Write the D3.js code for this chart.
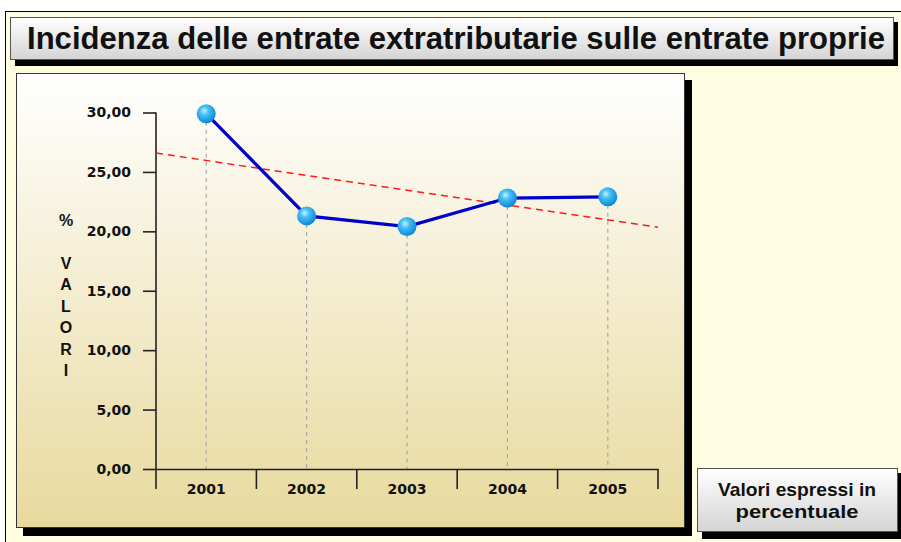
<!DOCTYPE html>
<html>
<head>
<meta charset="utf-8">
<script src="https://cdn.jsdelivr.net/npm/d3@7"></script>
<style>
  body { margin: 0; background: #fff; }
  svg { display: block; }
</style>
</head>
<body>
<svg id="chart" width="901" height="542"></svg>
<script>
// dati
const years = ["2001", "2002", "2003", "2004", "2005"];
const values = [29.9, 21.3, 20.4, 22.8, 22.9];
const yTicks = [0, 5, 10, 15, 20, 25, 30];
const titleText = "Incidenza delle entrate extratributarie sulle entrate proprie";
const axisTitle = ["%", "V", "A", "L", "O", "R", "I"];
const noteLines = ["Valori espressi in", "percentuale"];

const svg = d3.select("#chart");
const defs = svg.append("defs");

const panelGrad = defs.append("linearGradient").attr("id", "panelGrad")
  .attr("x1", 0).attr("y1", 0).attr("x2", 0).attr("y2", 1);
panelGrad.append("stop").attr("offset", "0%").attr("stop-color", "#ffffff");
panelGrad.append("stop").attr("offset", "100%").attr("stop-color", "#e8d99d");

const boxGrad = defs.append("linearGradient").attr("id", "boxGrad")
  .attr("x1", 0).attr("y1", 0).attr("x2", 0).attr("y2", 1);
boxGrad.append("stop").attr("offset", "0%").attr("stop-color", "#ffffff");
boxGrad.append("stop").attr("offset", "100%").attr("stop-color", "#d4d4d4");

const ballGrad = defs.append("radialGradient").attr("id", "ballGrad")
  .attr("cx", "40%").attr("cy", "35%").attr("r", "65%");
ballGrad.append("stop").attr("offset", "0%").attr("stop-color", "#c8f2ff");
ballGrad.append("stop").attr("offset", "35%").attr("stop-color", "#45c0f5");
ballGrad.append("stop").attr("offset", "100%").attr("stop-color", "#0d86d8");

const narrow = "'Liberation Sans Narrow', 'Liberation Sans', Arial, sans-serif";
const fontAxis = "'DejaVu Sans', Verdana, sans-serif";

// cornice esterna
svg.append("rect").attr("x", 5.5).attr("y", 11.5).attr("width", 910).attr("height", 545)
  .attr("fill", "#fffee2").attr("stroke", "#000");

// riquadro titolo
svg.append("rect").attr("x", 15).attr("y", 22).attr("width", 883).attr("height", 44).attr("fill", "#000");
svg.append("rect").attr("x", 10.5).attr("y", 17.5).attr("width", 883).attr("height", 42)
  .attr("fill", "url(#boxGrad)").attr("stroke", "#555");
svg.append("text")
  .attr("x", 27).attr("y", 49)
  .attr("textLength", 858).attr("lengthAdjust", "spacingAndGlyphs")
  .style("font-family", narrow)
  .style("font-weight", "bold").style("font-size", "31px").attr("fill", "#111")
  .text(titleText);

// pannello del grafico
svg.append("rect").attr("x", 23).attr("y", 80).attr("width", 669).attr("height", 456).attr("fill", "#000");
svg.append("rect").attr("x", 16.5).attr("y", 73.5).attr("width", 668).attr("height", 454)
  .attr("fill", "url(#panelGrad)").attr("stroke", "#333");

// riquadro nota
svg.append("rect").attr("x", 702).attr("y", 473).attr("width", 200).attr("height", 66).attr("fill", "#000");
svg.append("rect").attr("x", 697.5).attr("y", 468.5).attr("width", 200).attr("height", 63)
  .attr("fill", "url(#boxGrad)").attr("stroke", "#555");
const noteWidths = [158, 123];
svg.append("g").selectAll("text").data(noteLines).join("text")
  .attr("x", 797).attr("y", (d, i) => 496 + i * 22)
  .attr("text-anchor", "middle")
  .attr("textLength", (d, i) => noteWidths[i]).attr("lengthAdjust", "spacingAndGlyphs")
  .style("font-family", narrow)
  .style("font-weight", "bold").style("font-size", "19px").attr("fill", "#111")
  .text(d => d);

// scale
const x = d3.scaleBand().domain(years).range([156, 658]).padding(0);
const y = d3.scaleLinear().domain([0, 30]).range([469, 112.5]);
const itLocale = d3.formatLocale({ decimal: ",", thousands: ".", grouping: [3], currency: ["", "€"] });
const fmt = itLocale.format(".2f");

// linee verticali tratteggiate
svg.append("g").selectAll("line").data(values).join("line")
  .attr("x1", (d, i) => x(years[i]) + x.bandwidth() / 2)
  .attr("x2", (d, i) => x(years[i]) + x.bandwidth() / 2)
  .attr("y1", d => y(d)).attr("y2", y(0))
  .attr("stroke", "#a8a8a8").attr("stroke-width", 1.2).attr("stroke-dasharray", "4,4");

// asse y
const yAxis = svg.append("g").attr("transform", "translate(156,0)")
  .call(d3.axisLeft(y).tickValues(yTicks).tickSize(13).tickPadding(12).tickFormat(fmt));
yAxis.select(".domain").attr("d", `M0,${y(30)}V${y(0)}`).attr("stroke", "#222").attr("stroke-width", 1.6);
yAxis.selectAll(".tick line").attr("stroke", "#222").attr("stroke-width", 1.6);
yAxis.selectAll(".tick text")
  .attr("font-family", fontAxis).attr("font-weight", "bold").attr("font-size", 14)
  .style("font-family", fontAxis).style("font-weight", "bold").style("font-size", "14px")
  .attr("fill", "#111");

// asse x
const xAxis = svg.append("g").attr("transform", `translate(0,${y(0)})`)
  .call(d3.axisBottom(x).tickSize(0).tickPadding(15));
xAxis.select(".domain").attr("stroke", "#222").attr("stroke-width", 1.6);
xAxis.selectAll(".tick text")
  .attr("font-family", fontAxis).attr("font-weight", "bold").attr("font-size", 14)
  .style("font-family", fontAxis).style("font-weight", "bold").style("font-size", "14px")
  .attr("fill", "#111");
const bounds = years.map(d => x(d)).concat([x(years[years.length - 1]) + x.bandwidth()]);
xAxis.append("g").selectAll("line").data(bounds).join("line")
  .attr("x1", d => d).attr("x2", d => d).attr("y1", 0).attr("y2", 20)
  .attr("stroke", "#222").attr("stroke-width", 1.6);

// titolo asse y
svg.append("g").selectAll("text").data(axisTitle).join("text")
  .attr("x", 66).attr("y", (d, i) => i === 0 ? 226 : 247 + i * 21.5)
  .attr("text-anchor", "middle")
  .style("font-family", "'Liberation Sans', Arial, sans-serif").style("font-weight", "bold")
  .style("font-size", "16px").attr("fill", "#111")
  .text(d => d);

// retta di tendenza (regressione lineare)
const xs = years.map((d, i) => i + 1);
const mx = d3.mean(xs), my = d3.mean(values);
const slope = d3.sum(xs, (v, i) => (v - mx) * (values[i] - my)) / d3.sum(xs, v => (v - mx) ** 2);
const trendAt = t => my + slope * (t - mx);
const xPos = t => x.range()[0] + (t - 0.5) * x.step();
svg.append("line")
  .attr("x1", xPos(0.5)).attr("y1", y(trendAt(0.5)))
  .attr("x2", xPos(5.5)).attr("y2", y(trendAt(5.5)))
  .attr("stroke", "#ff1a1a").attr("stroke-width", 1.5).attr("stroke-dasharray", "7,5");

// serie
const line = d3.line()
  .x((d, i) => x(years[i]) + x.bandwidth() / 2)
  .y(d => y(d));
svg.append("path").datum(values)
  .attr("d", line).attr("fill", "none")
  .attr("stroke", "#0000c8").attr("stroke-width", 3.2);

svg.append("g").selectAll("circle").data(values).join("circle")
  .attr("cx", (d, i) => x(years[i]) + x.bandwidth() / 2)
  .attr("cy", d => y(d))
  .attr("r", 9.5)
  .attr("fill", "url(#ballGrad)");
</script>
</body>
</html>
